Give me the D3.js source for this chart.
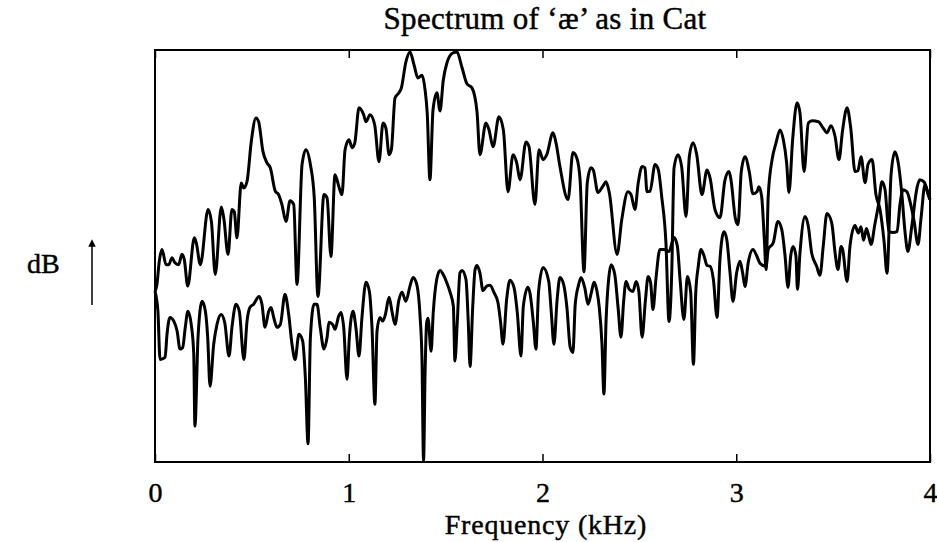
<!DOCTYPE html>
<head>
    <meta charset="utf-8">
    <title>Spectrum of 'æ' as in Cat</title>
    <script src="https://cdn.jsdelivr.net/npm/d3@7"></script>
</head>

<body style="margin:0;background:#fff">

<div id="container"></div>

<script type="text/javascript">
    // frequencies in kHz, levels in relative dB (0 = bottom of frame, 100 = top)
    const upperFreq = [0, 0.010, 0.022, 0.036, 0.057, 0.071, 0.088, 0.102, 0.122, 0.139, 0.151, 0.169, 0.203, 0.213, 0.234,
        0.274, 0.291, 0.311, 0.342, 0.355, 0.377, 0.397, 0.409, 0.423, 0.445, 0.458, 0.475, 0.497, 0.521, 0.535,
        0.557, 0.578, 0.595, 0.621, 0.638, 0.655, 0.676, 0.697, 0.716, 0.733, 0.759, 0.779, 0.802, 0.822, 0.841,
        0.872, 0.888, 0.908, 0.929, 0.951, 0.965, 0.981, 1.001, 1.017, 1.031, 1.053, 1.077, 1.089, 1.110, 1.134,
        1.156, 1.177, 1.192, 1.208, 1.220, 1.239, 1.259, 1.271, 1.295, 1.316, 1.337, 1.357, 1.378, 1.394, 1.405,
        1.419, 1.435, 1.455, 1.471, 1.488, 1.507, 1.538, 1.559, 1.583, 1.610, 1.636, 1.662, 1.677, 1.708, 1.724,
        1.745, 1.775, 1.798, 1.822, 1.848, 1.867, 1.884, 1.915, 1.930, 1.961, 1.982, 2.003, 2.022, 2.054, 2.070,
        2.090, 2.132, 2.157, 2.177, 2.194, 2.214, 2.231, 2.250, 2.262, 2.286, 2.311, 2.328, 2.345, 2.385, 2.409,
        2.441, 2.457, 2.477, 2.494, 2.514, 2.529, 2.539, 2.555, 2.581, 2.598, 2.615, 2.637, 2.653, 2.667, 2.679,
        2.699, 2.718, 2.741, 2.758, 2.777, 2.796, 2.823, 2.849, 2.865, 2.890, 2.916, 2.942, 2.963, 2.974, 2.995,
        3.009, 3.026, 3.045, 3.067, 3.086, 3.107, 3.117, 3.131, 3.145, 3.154, 3.165, 3.185, 3.205, 3.226, 3.243,
        3.260, 3.272, 3.291, 3.314, 3.329, 3.350, 3.372, 3.391, 3.424, 3.448, 3.468, 3.489, 3.510, 3.530, 3.549,
        3.572, 3.591, 3.613, 3.628, 3.644, 3.665, 3.680, 3.701, 3.721, 3.742, 3.763, 3.778, 3.799, 3.819, 3.835,
        3.855, 3.871, 3.886, 3.907, 3.933, 3.948, 3.969, 3.985, 4.000];
    const upperLevel = [41.4, 43.1, 48.7, 51.6, 47.9, 47.9, 49.6, 48.4, 47.9, 50.4, 49.2, 42.7, 54.4, 53.2, 47.9,
        61.3, 58.4, 45.5, 61.9, 59.2, 50.4, 61.3, 60.8, 54.4, 67.7, 66.5, 68.1, 77.8, 83.5, 82.6,
        75.4, 72.6, 71.4, 65.7, 64.9, 62.5, 58.4, 63.4, 62.5, 43.1, 72.2, 75.8, 72.2, 64.1, 40.2,
        64.9, 64.1, 49.9, 69.7, 66.5, 64.9, 75.8, 78.2, 76.3, 77.4, 86.0, 84.3, 82.6, 84.3, 81.8,
        72.9, 82.3, 81.0, 74.6, 75.8, 88.4, 89.6, 90.7, 97.1, 99.5, 96.4, 93.2, 93.9, 90.3, 84.7,
        68.5, 85.5, 89.6, 85.2, 92.7, 96.9, 99.3, 99.5, 96.0, 91.8, 90.8, 85.0, 74.6, 82.3, 80.6,
        76.5, 83.8, 80.6, 65.6, 74.6, 72.6, 68.5, 77.7, 76.6, 62.5, 75.8, 73.4, 74.6, 79.9, 77.4,
        71.7, 63.7, 75.1, 73.8, 68.5, 46.2, 67.7, 71.4, 70.9, 65.4, 66.9, 68.0, 65.3, 50.4, 58.8,
        65.6, 64.9, 61.3, 67.7, 71.7, 71.4, 65.6, 65.7, 72.2, 70.9, 64.5, 53.3, 34.1, 45.9, 71.4,
        74.6, 71.7, 59.6, 74.2, 77.5, 74.6, 64.9, 70.9, 68.9, 61.3, 59.3, 68.5, 70.5, 68.1, 59.2,
        57.6, 70.5, 74.1, 70.5, 65.1, 65.6, 66.8, 64.5, 54.0, 46.7, 64.5, 73.4, 77.4, 80.6, 78.2,
        72.6, 65.4, 78.2, 87.2, 84.7, 70.5, 82.3, 82.8, 82.6, 81.1, 79.9, 81.6, 79.0, 73.4, 80.6,
        86.0, 81.0, 70.5, 70.7, 74.1, 67.8, 72.2, 73.4, 64.9, 61.3, 53.5, 45.8, 69.7, 75.3, 72.9,
        64.9, 55.9, 51.1, 57.6, 66.6, 68.5, 68.0, 66.1, 63.7];

    const lowerFreq = [0, 0.015, 0.026, 0.052, 0.062, 0.077, 0.097, 0.114, 0.129, 0.143, 0.156, 0.170, 0.187, 0.200, 0.206,
        0.222, 0.243, 0.260, 0.272, 0.284, 0.303, 0.320, 0.341, 0.360, 0.382, 0.397, 0.418, 0.435, 0.459, 0.475,
        0.490, 0.509, 0.537, 0.552, 0.568, 0.587, 0.599, 0.613, 0.630, 0.647, 0.671, 0.690, 0.707, 0.723, 0.743,
        0.762, 0.776, 0.790, 0.802, 0.821, 0.836, 0.853, 0.872, 0.888, 0.898, 0.917, 0.929, 0.948, 0.960, 0.974,
        0.991, 1.003, 1.022, 1.037, 1.053, 1.068, 1.089, 1.106, 1.120, 1.135, 1.146, 1.161, 1.175, 1.189, 1.208,
        1.223, 1.239, 1.258, 1.275, 1.295, 1.316, 1.332, 1.351, 1.368, 1.378, 1.386, 1.394, 1.402, 1.409, 1.425,
        1.436, 1.454, 1.471, 1.492, 1.506, 1.523, 1.540, 1.548, 1.560, 1.574, 1.585, 1.605, 1.617, 1.626, 1.640,
        1.652, 1.662, 1.677, 1.693, 1.712, 1.729, 1.750, 1.770, 1.784, 1.796, 1.815, 1.832, 1.853, 1.870, 1.889,
        1.901, 1.925, 1.935, 1.953, 1.966, 1.980, 2.003, 2.032, 2.045, 2.059, 2.075, 2.090, 2.109, 2.126, 2.143,
        2.157, 2.169, 2.187, 2.199, 2.218, 2.235, 2.252, 2.266, 2.281, 2.293, 2.307, 2.317, 2.328, 2.342, 2.354,
        2.373, 2.390, 2.405, 2.419, 2.431, 2.448, 2.467, 2.483, 2.497, 2.514, 2.531, 2.545, 2.558, 2.570, 2.586,
        2.606, 2.627, 2.653, 2.679, 2.696, 2.710, 2.730, 2.748, 2.765, 2.779, 2.791, 2.804, 2.818, 2.834, 2.849,
        2.865, 2.882, 2.901, 2.916, 2.937, 2.951, 2.968, 2.983, 3.002, 3.019, 3.033, 3.045, 3.062, 3.086, 3.106,
        3.123, 3.154, 3.165, 3.191, 3.215, 3.235, 3.252, 3.267, 3.281, 3.293, 3.308, 3.316, 3.329, 3.355, 3.372,
        3.389, 3.415, 3.432, 3.449, 3.468, 3.493, 3.510, 3.525, 3.541, 3.549, 3.572, 3.587, 3.613, 3.630, 3.644,
        3.657, 3.672, 3.684, 3.696, 3.715, 3.735, 3.752, 3.768, 3.788, 3.809, 3.830, 3.845, 3.861, 3.881, 3.897,
        3.918, 3.938, 3.954, 3.974, 3.990, 4.000];
    const lowerLevel = [41.4, 36.6, 24.9, 25.4, 31.0, 35.1, 34.2, 31.8, 27.4, 27.8, 32.6, 36.6, 33.4, 26.2, 8.7,
        30.2, 39.0, 36.6, 30.2, 18.4, 28.6, 33.4, 35.8, 33.8, 25.7, 32.6, 38.3, 36.6, 24.9, 34.2,
        37.5, 38.3, 40.2, 38.3, 32.7, 36.6, 37.5, 35.0, 32.7, 33.4, 40.7, 35.8, 28.6, 24.9, 31.0,
        29.4, 20.5, 4.4, 30.2, 38.3, 38.3, 32.6, 27.4, 30.2, 33.9, 33.4, 32.2, 35.4, 36.3, 32.6,
        20.1, 30.2, 36.6, 32.6, 25.7, 35.0, 43.6, 41.5, 32.6, 14.0, 31.8, 35.1, 34.2, 35.8, 40.0,
        36.6, 33.4, 39.1, 41.2, 39.0, 42.7, 44.8, 43.1, 35.4, 24.9, 0.2, 21.7, 33.8, 34.9, 26.9,
        36.2, 44.3, 46.5, 45.1, 43.5, 41.2, 37.8, 24.5, 33.8, 45.9, 46.5, 44.3, 33.8, 23.2, 37.8,
        46.7, 47.7, 45.9, 41.6, 42.7, 42.9, 41.1, 38.7, 33.8, 28.6, 39.5, 44.1, 42.3, 36.2, 25.7,
        37.8, 42.4, 41.1, 33.8, 27.4, 41.5, 47.2, 43.9, 36.6, 28.6, 39.1, 44.8, 43.1, 37.5, 27.8,
        26.6, 38.3, 43.1, 44.8, 42.3, 38.3, 41.1, 43.6, 41.5, 37.5, 28.6, 16.5, 34.2, 44.7, 47.9,
        45.5, 37.5, 30.3, 39.1, 43.8, 41.9, 41.4, 43.8, 41.5, 30.3, 39.1, 45.0, 43.5, 37.0, 44.7,
        51.6, 51.6, 51.1, 54.5, 52.4, 44.3, 34.6, 45.0, 41.1, 23.7, 41.1, 47.5, 51.6, 50.0, 47.7,
        47.5, 44.3, 35.1, 49.2, 55.9, 54.0, 45.9, 39.0, 45.9, 48.7, 45.9, 42.6, 48.4, 51.6, 50.0,
        48.2, 47.5, 51.6, 53.2, 58.4, 56.4, 50.0, 42.4, 50.0, 52.3, 50.0, 41.9, 50.8, 59.6, 57.2,
        50.8, 47.5, 45.3, 52.4, 60.3, 58.0, 50.8, 46.7, 52.3, 51.6, 43.8, 52.4, 57.4, 55.6, 57.1,
        53.8, 56.7, 54.8, 52.8, 57.6, 62.7, 68.0, 66.1, 55.9, 55.7, 55.9, 62.5, 66.1, 65.6, 63.2,
        58.4, 52.8, 59.3, 67.3, 64.9, 63.7];

    const xTicks = [0, 1, 2, 3, 4];

    const width = 937, height = 542;
    const frame = {left: 155, right: 930, top: 50, bottom: 462};
    const font = "'Liberation Serif', 'DejaVu Serif', serif";

    const svg = d3.select("#container")
        .append("svg")
        .attr("width", width)
        .attr("height", height)
        .style("display", "block");

    const x = d3.scaleLinear().domain([0, 4]).range([frame.left, frame.right]);
    const y = d3.scaleLinear().domain([0, 100]).range([frame.bottom, frame.top]);

    // scanned TeX text looks a little heavier than a plain serif
    function inked(sel, size, spacing) {
        return sel.style("font-family", font)
            .style("font-size", size + "px")
            .style("letter-spacing", (spacing || 0) + "px")
            .attr("fill", "#000")
            .attr("stroke", "#000")
            .attr("stroke-width", 0.45);
    }

    // title
    svg.append("text")
        .attr("x", 545)
        .attr("y", 29)
        .attr("text-anchor", "middle")
        .call(inked, 31, 0.3)
        .text("Spectrum of \u2018æ\u2019 as in Cat");

    // bottom axis: ticks point up into the frame, labels well below
    const xAxis = svg.append("g")
        .attr("transform", `translate(0,${frame.bottom})`)
        .call(d3.axisBottom(x).tickValues(xTicks).tickSize(-8).tickFormat(d3.format("d")));
    xAxis.select(".domain").remove();
    xAxis.selectAll(".tick line").attr("stroke", "#000").attr("stroke-width", 1.5);
    xAxis.selectAll(".tick text")
        .attr("y", 40)
        .attr("dy", null)
        .call(inked, 28);

    const xAxisTop = svg.append("g")
        .attr("transform", `translate(0,${frame.top})`)
        .call(d3.axisTop(x).tickValues(xTicks).tickSize(-8).tickFormat(""));
    xAxisTop.select(".domain").remove();
    xAxisTop.selectAll(".tick line").attr("stroke", "#000").attr("stroke-width", 1.5);

    svg.append("text")
        .attr("x", 546)
        .attr("y", 534)
        .attr("text-anchor", "middle")
        .call(inked, 28, 0.8)
        .text("Frequency (kHz)");

    // y label with arrow
    svg.append("text")
        .attr("x", 27)
        .attr("y", 273)
        .call(inked, 28)
        .text("dB");

    svg.append("defs").append("marker")
        .attr("id", "arrow")
        .attr("viewBox", "0 0 10 10")
        .attr("refX", 5).attr("refY", 5)
        .attr("markerWidth", 5).attr("markerHeight", 7)
        .attr("orient", "auto")
        .append("path")
        .attr("d", "M0,0 L10,5 L0,10 z")
        .attr("fill", "#000");

    svg.append("line")
        .attr("x1", 92).attr("y1", 305)
        .attr("x2", 92).attr("y2", 243)
        .attr("stroke", "#000")
        .attr("stroke-width", 1.5)
        .attr("marker-end", "url(#arrow)");

    // the two spectra
    const line = d3.line()
        .x(d => x(d[0]))
        .y(d => y(d[1]))
        .curve(d3.curveMonotoneX);

    const upper = upperFreq.map((f, i) => [f, upperLevel[i]]);
    const lower = lowerFreq.map((f, i) => [f, lowerLevel[i]]);

    svg.selectAll("path.spectrum")
        .data([upper, lower])
        .join("path")
        .attr("class", "spectrum")
        .attr("d", line)
        .attr("fill", "none")
        .attr("stroke", "#000")
        .attr("stroke-width", 3)
        .attr("stroke-linejoin", "round");

    // frame
    svg.append("rect")
        .attr("x", frame.left)
        .attr("y", frame.top)
        .attr("width", frame.right - frame.left)
        .attr("height", frame.bottom - frame.top)
        .attr("fill", "none")
        .attr("stroke", "#000")
        .attr("stroke-width", 2);
</script>
</body>
